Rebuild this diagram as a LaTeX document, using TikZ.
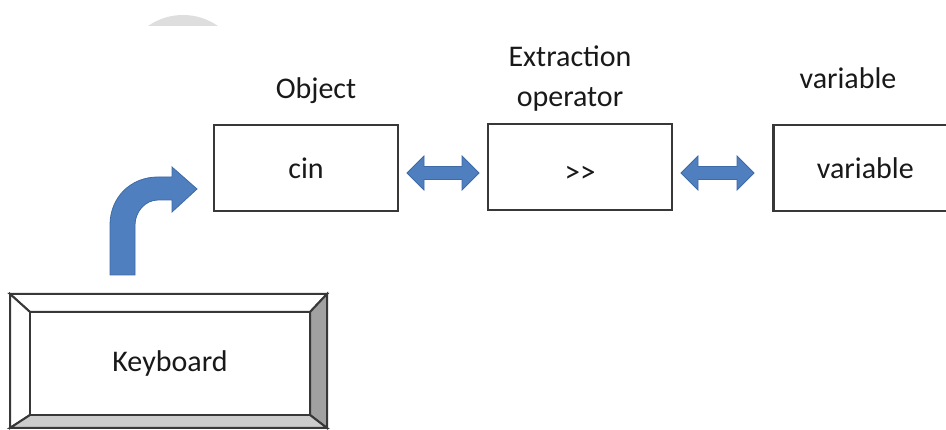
\documentclass[tikz,border=0pt]{standalone}
\usepackage{fontspec}
\setmainfont{Carlito}
\definecolor{arrowblue}{HTML}{4F7FBE}
\definecolor{arrowedge}{HTML}{3E6AA6}
\definecolor{boxline}{HTML}{383838}
\definecolor{blob}{HTML}{DEDEDE}
\begin{document}
\begin{tikzpicture}[x=1pt,y=-1pt,
  lbl/.style={font=\fontsize{30}{40}\selectfont, text=black!90, align=center, inner sep=0pt},
  boxstyle/.style={draw=boxline, line width=2.6pt, fill=white, minimum width=184pt, minimum height=86pt, inner sep=0pt, font=\fontsize{30}{36}\selectfont, text=black!90},
  bluearrow/.style={fill=arrowblue, draw=arrowedge, line width=0.8pt, line join=miter},
  bevel/.style={draw=boxline, line width=2pt, line join=miter}]
\useasboundingbox (0,0) rectangle (946,430);
% faint grey blob at the top
\begin{scope}
  \clip (140,0) rectangle (230,26);
  \fill[blob] (183,76) circle (61);
\end{scope}
% boxes
\node[boxstyle] (cin) at (306,168) {cin};
\node[boxstyle] (op) at (580,167) {};
\node[lbl, font=\fontsize{31}{36}\selectfont] (optext) at ([yshift=-7pt]op.center) {>{}>};
\node[boxstyle, anchor=west] (var) at (772,168) {\hspace*{0pt}variable};
% labels
\node[lbl] (objlbl) at (316,91) {Object};
\node[lbl] (oplbl) at (570,79) {Extraction\\operator};
\node[lbl] (varlbl) at (848,78) {variable};
% double arrows between boxes
\coordinate (a1l) at (407,173);
\draw[bluearrow] (a1l) -- ++(17,-17) -- ++(0,10.5) -- ++(38,0) -- ++(0,-10.5) -- ++(17,17) -- ++(-17,17) -- ++(0,-10.5) -- ++(-38,0) -- ++(0,10.5) -- cycle;
\coordinate (a2l) at (681,173);
\draw[bluearrow] (a2l) -- ++(17,-17) -- ++(0,10.5) -- ++(39,0) -- ++(0,-10.5) -- ++(17,17) -- ++(-17,17) -- ++(0,-10.5) -- ++(-39,0) -- ++(0,10.5) -- cycle;
% keyboard key
\fill[white] (10,294) rectangle (327,428);
\filldraw[bevel, fill=white] (10,294) -- (327,294) -- (310,312) -- (30,312) -- cycle;
\filldraw[bevel, fill=white] (10,294) -- (30,312) -- (30,415) -- (10,428) -- cycle;
\filldraw[bevel, fill=black!37] (327,294) -- (327,428) -- (310,415) -- (310,312) -- cycle;
\filldraw[bevel, fill=black!20] (10,428) -- (30,415) -- (310,415) -- (327,428) -- cycle;
\node[bevel, draw=boxline, fill=white, minimum width=280pt, minimum height=103pt, inner sep=0pt, font=\fontsize{30}{36}\selectfont, text=black!90] (kb) at (170,363.5) {Keyboard};
% bent arrow from keyboard to cin
\draw[bluearrow] (110,275) -- (110,225) .. controls (110,198) and (130,177) .. (158,177) -- (172,177) -- (172,167) -- (197,189) -- (172,212) -- (172,200) -- (158,200) .. controls (145,200) and (135,212) .. (135,225) -- (135,275) -- cycle;
\end{tikzpicture}
\end{document}
